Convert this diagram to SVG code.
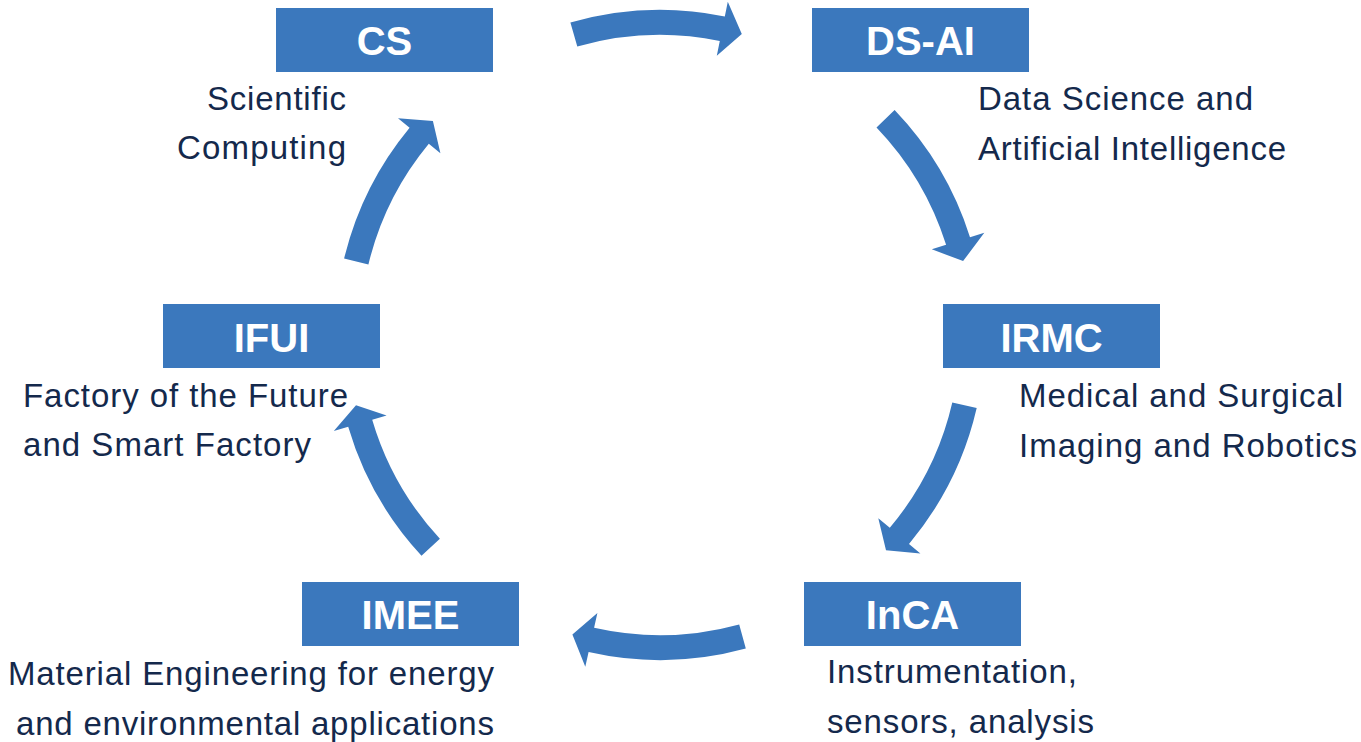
<svg xmlns="http://www.w3.org/2000/svg" width="1361" height="742" viewBox="0 0 1361 742">
<style>
.box{fill:#3B78BD}
.lbl{font-family:"Liberation Sans",Arial,sans-serif;font-weight:bold;font-size:40px;fill:#ffffff;text-anchor:middle}
.desc{font-family:"Liberation Sans",Arial,sans-serif;font-size:33px;fill:#14294C}
.arr{fill:#3B78BD}
</style>
<rect width="1361" height="742" fill="#ffffff"/>
<g id="connectors">
<path class="arr" d="M570.4,22.6 A325,325 0 0 1 724.8,16.5 L727.8,1.8 L741.8,33.9 L716.8,55.7 L719.8,41.0 A300,300 0 0 0 577.3,46.6 Z"/>
<path class="arr" d="M894.6,110.1 A325,325 0 0 1 970.0,237.3 L984.3,232.8 L963.1,261.1 L931.8,249.3 L946.1,244.8 A300,300 0 0 0 876.5,127.4 Z"/>
<path class="arr" d="M976.7,408.1 A325,325 0 0 1 909.0,543.9 L920.4,553.6 L886.0,550.2 L878.3,518.2 L889.8,527.8 A300,300 0 0 0 952.3,402.5 Z"/>
<path class="arr" d="M745.8,648.5 A325,325 0 0 1 588.6,652.0 L585.3,666.7 L572.4,634.5 L597.4,613.0 L594.1,627.7 A300,300 0 0 0 739.2,624.4 Z"/>
<path class="arr" d="M421.5,555.8 A325,325 0 0 1 348.2,426.7 L333.8,431.0 L356.0,405.2 L386.6,415.5 L372.2,419.7 A300,300 0 0 0 439.9,538.8 Z"/>
<path class="arr" d="M344.1,258.6 A325,325 0 0 1 409.6,127.8 L398.0,118.3 L432.9,121.0 L440.4,153.3 L428.8,143.8 A300,300 0 0 0 368.4,264.5 Z"/>
</g>
<g id="node-cs">
<rect class="box" x="276" y="8" width="217" height="64"/>
<text class="lbl" x="384.5" y="55">CS</text>
<text class="desc" x="207" y="110" textLength="139" lengthAdjust="spacing">Scientific</text>
<text class="desc" x="177" y="159" textLength="169" lengthAdjust="spacing">Computing</text>
</g>
<g id="node-dsai">
<rect class="box" x="812" y="8" width="217" height="64"/>
<text class="lbl" x="920.5" y="55">DS-AI</text>
<text class="desc" x="978" y="110" textLength="275" lengthAdjust="spacing">Data Science and</text>
<text class="desc" x="978" y="160" textLength="308" lengthAdjust="spacing">Artificial Intelligence</text>
</g>
<g id="node-irmc">
<rect class="box" x="943" y="304" width="217" height="64"/>
<text class="lbl" x="1051.5" y="352">IRMC</text>
<text class="desc" x="1019" y="407" textLength="324" lengthAdjust="spacing">Medical and Surgical</text>
<text class="desc" x="1019" y="457" textLength="338" lengthAdjust="spacing">Imaging and Robotics</text>
</g>
<g id="node-inca">
<rect class="box" x="804" y="582" width="217" height="64"/>
<text class="lbl" x="912.5" y="629">InCA</text>
<text class="desc" x="827" y="683" textLength="250" lengthAdjust="spacing">Instrumentation,</text>
<text class="desc" x="827" y="733" textLength="267" lengthAdjust="spacing">sensors, analysis</text>
</g>
<g id="node-imee">
<rect class="box" x="302" y="582" width="217" height="64"/>
<text class="lbl" x="410.5" y="629">IMEE</text>
<text class="desc" x="8" y="685" textLength="486" lengthAdjust="spacing">Material Engineering for energy</text>
<text class="desc" x="16" y="735" textLength="478" lengthAdjust="spacing">and environmental applications</text>
</g>
<g id="node-ifui">
<rect class="box" x="163" y="304" width="217" height="64"/>
<text class="lbl" x="271.5" y="352">IFUI</text>
<text class="desc" x="23" y="407" textLength="325" lengthAdjust="spacing">Factory of the Future</text>
<text class="desc" x="23" y="456" textLength="288" lengthAdjust="spacing">and Smart Factory</text>
</g>
</svg>
